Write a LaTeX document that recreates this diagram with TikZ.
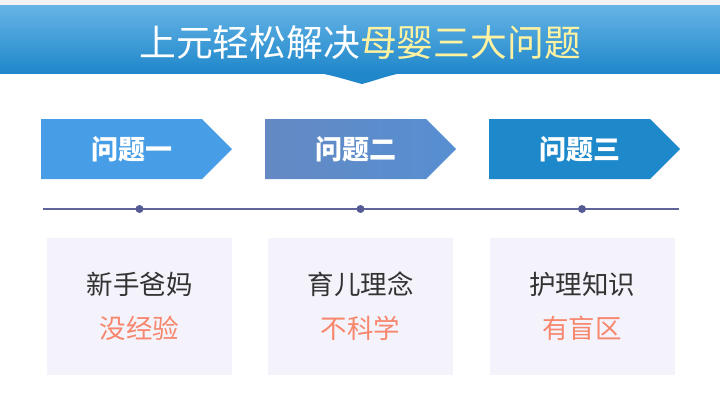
\documentclass[tikz,border=0pt]{standalone}
\usepackage{fontspec}
\setmainfont{Noto Sans CJK SC}
\usepackage{tikz}
\usetikzlibrary{positioning, shapes.symbols, calc}

\definecolor{bannertop}{HTML}{66B4E6}
\definecolor{bannerbot}{HTML}{1F87CA}
\definecolor{titleyellow}{HTML}{FFF2A0}
\definecolor{qone}{HTML}{479EE6}
\definecolor{qtwoleft}{HTML}{6489C3}
\definecolor{qtworight}{HTML}{568FD2}
\definecolor{qthree}{HTML}{1D89CA}
\definecolor{axisline}{HTML}{60649A}
\definecolor{dotcol}{HTML}{545A93}
\definecolor{cardfill}{HTML}{F4F3FB}
\definecolor{darktext}{HTML}{333333}
\definecolor{redtext}{HTML}{F7866C}

\begin{document}
\begin{tikzpicture}[x=1pt, y=-1pt]
	% Define styles
	\tikzset{
		question/.style={signal, signal to=east, signal pointer angle=90, minimum width=191pt, minimum height=60pt, inner sep=0pt},
		qlabel/.style={text=white, font=\fontsize{27}{27}\selectfont\bfseries},
		card/.style={rectangle, fill=cardfill, minimum width=185pt, minimum height=137pt, inner sep=0pt},
		topline/.style={text=darktext, font=\fontsize{26.5}{26.5}\selectfont},
		bottomline/.style={text=redtext, font=\fontsize{26.5}{26.5}\selectfont},
		dot/.style={circle, fill=dotcol, minimum size=8pt, inner sep=0pt}
	}
	\useasboundingbox (0,0) rectangle (720,402);
	
	% Banner
	\fill[black!5] (0,0) rectangle (720,5);
	\shade[top color=bannertop, bottom color=bannerbot] (0,5) rectangle (720,73);
	\fill[bannerbot] (312,72) to[out=-8, in=165] (362,84) to[out=15, in=188] (408,72) -- cycle;
	\node (title) at (360,43) {\fontsize{36.8}{36.8}\selectfont\color{white}上元轻松解决\color{titleyellow}母婴三大问题};
	
	% Questions
	\node[question, fill=qone] (q1) at (121.5,149) {};
	\node[question, left color=qtwoleft, right color=qtworight] (q2) at (345.5,149) {};
	\node[question, fill=qthree] (q3) at (569.5,149) {};
	
	\node[qlabel] (l1) at ($(q1)+(10.5,0)$) {问题一};
	\node[qlabel] (l2) at ($(q2)+(10.5,0)$) {问题二};
	\node[qlabel] (l3) at ($(q3)+(10.5,0)$) {问题三};
	
	% Axis
	\coordinate (a0) at (43,209);
	\coordinate (a1) at (679,209);
	\draw[axisline, line width=1.8pt] (a0) -- (a1);
	\node[dot] (d1) at (139.5,209) {};
	\node[dot] (d2) at (360.5,209) {};
	\node[dot] (d3) at (582,209) {};
	
	% Cards
	\node[card] (c1) at (139.5,306.5) {};
	\node[card] (c2) at (360.5,306.5) {};
	\node[card] (c3) at (582,306.5) {};
	
	\node[topline] (t1) at ($(c1)+(0,-22)$) {新手爸妈};
	\node[topline] (t2) at ($(c2)+(0,-22)$) {育儿理念};
	\node[topline] (t3) at ($(c3)+(0,-22)$) {护理知识};
	
	\node[bottomline] (b1) at ($(c1)+(0,22)$) {没经验};
	\node[bottomline] (b2) at ($(c2)+(0,22)$) {不科学};
	\node[bottomline] (b3) at ($(c3)+(0,22)$) {有盲区};
	
\end{tikzpicture}
\end{document}
